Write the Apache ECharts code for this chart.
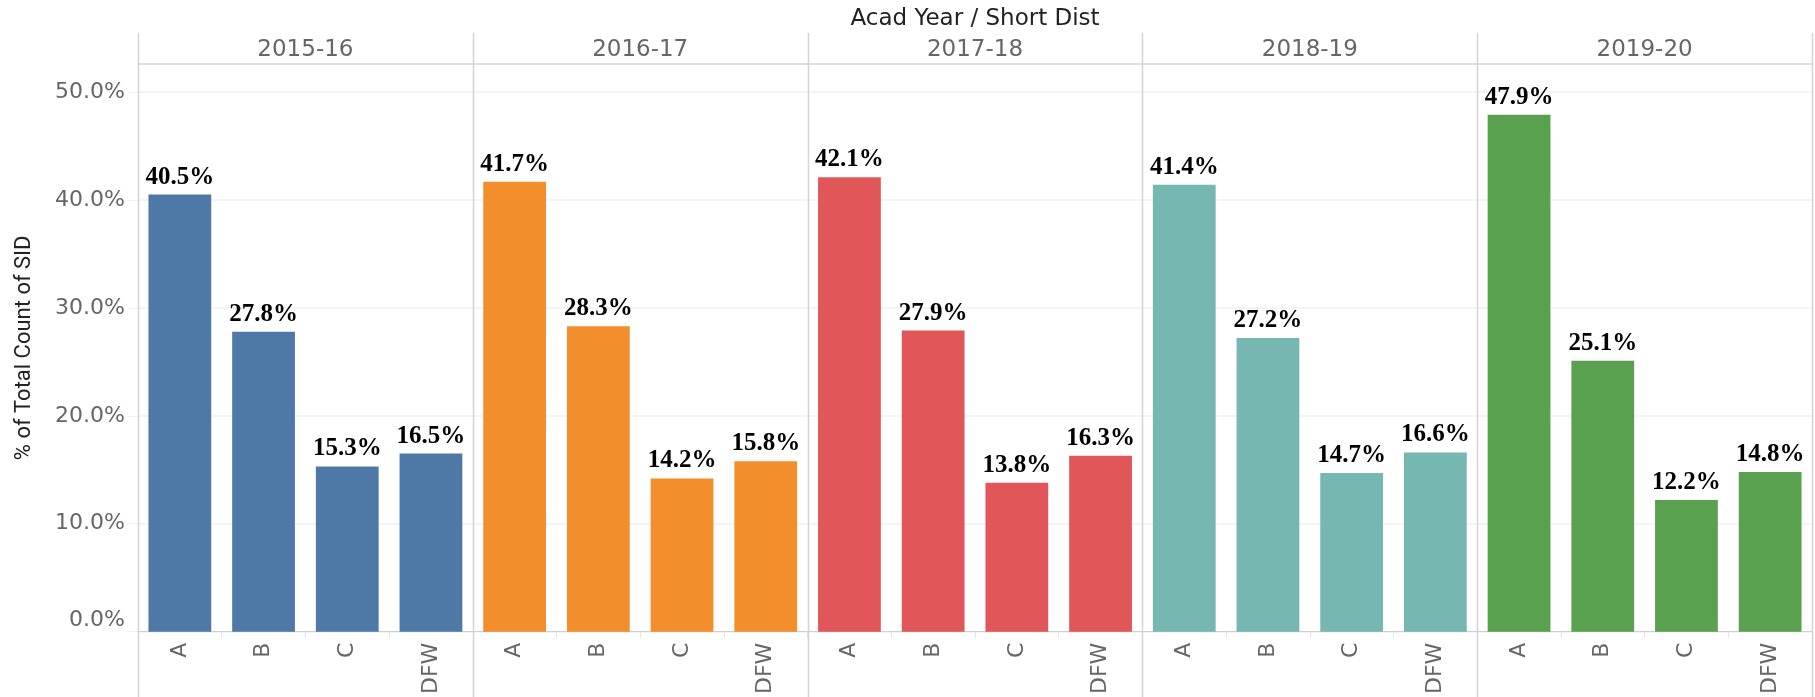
<!DOCTYPE html>
<html>
<head>
<meta charset="utf-8">
<script src="https://cdn.jsdelivr.net/npm/echarts@6/dist/echarts.min.js"></script>
<style>
  html, body { margin: 0; padding: 0; background: #fff; }
  #chart { width: 1815px; height: 697px; }
</style>
</head>
<body>
<div id="chart"></div>
<script>
const years = ["2015-16", "2016-17", "2017-18", "2018-19", "2019-20"];
const categories = ["A", "B", "C", "DFW"];
const share1516 = [40.5, 27.8, 15.3, 16.5];
const share1617 = [41.7, 28.3, 14.2, 15.8];
const share1718 = [42.1, 27.9, 13.8, 16.3];
const share1819 = [41.4, 27.2, 14.7, 16.6];
const share1920 = [47.9, 25.1, 12.2, 14.8];
const yTicks = [0, 10, 20, 30, 40, 50];

const shares = [share1516, share1617, share1718, share1819, share1920];
const colors = ["#4e79a7", "#f28e2b", "#e15759", "#76b7b2", "#59a14f"];

// pane layout
const paneLeft = 138;
const paneRight = 1812;
const paneTop = 64;
const paneBottom = 636.5;
const paneW = (paneRight - paneLeft) / years.length;
const lineColor = "#d4d4d4";
const grayText = "#666";
const headerFont = "DejaVu Sans";

const chart = echarts.init(document.getElementById("chart"));

const grids = [];
const xAxes = [];
const yAxes = [];
const series = [];

years.forEach((yr, i) => {
    grids.push({
        left: paneLeft + i * paneW,
        width: paneW,
        top: paneTop,
        bottom: 697 - paneBottom,
    });

    // bottom category axis
    xAxes.push({
        type: "category",
        gridIndex: i,
        data: categories,
        axisLine: { lineStyle: { color: "#cfcfcf", width: 1 } },
        axisTick: { show: true, length: 6, lineStyle: { color: "#e4e4e4" } },
        axisLabel: {
            rotate: 90,
            margin: 11,
            color: grayText,
            fontFamily: headerFont,
            fontSize: 22,
        },
    });
    // header axis with year label
    xAxes.push({
        type: "category",
        gridIndex: i,
        position: "top",
        data: [yr],
        axisLine: { show: true, lineStyle: { color: lineColor, width: 1.5 } },
        axisTick: { show: false },
        axisLabel: {
            margin: 2,
            color: grayText,
            fontFamily: headerFont,
            fontSize: 23,
        },
    });

    yAxes.push({
        type: "value",
        gridIndex: i,
        min: 0,
        max: 52.6,
        interval: 10,
        name: i === 0 ? "% of Total Count of SID" : "",
        nameLocation: "middle",
        nameGap: 103,
        nameTextStyle: { color: "#222", fontFamily: "Roboto", fontSize: 22 },
        axisLine: { show: false },
        axisTick: { show: i === 0, length: 9, lineStyle: { color: "#ececec" } },
        axisLabel: {
            show: i === 0,
            margin: 13,
            color: grayText,
            fontFamily: headerFont,
            fontSize: 22,
            showMaxLabel: false,
            formatter: (v) => (yTicks.includes(v) ? (v === 0 ? "{z|0.0%}" : v.toFixed(1) + "%") : ""),
            rich: {
                z: { color: grayText, fontFamily: headerFont, fontSize: 22, padding: [0, 0, 22, 0] },
            },
        },
        splitLine: { show: true, showMaxLine: false, lineStyle: { color: "#f0f0f0", width: 1.5 } },
    });

    series.push({
        type: "bar",
        xAxisIndex: i * 2,
        yAxisIndex: i,
        data: shares[i],
        barWidth: "75%",
        itemStyle: { color: colors[i] },
        label: {
            show: true,
            position: "top",
            distance: 5,
            color: "#000",
            fontFamily: "Liberation Serif",
            fontWeight: "bold",
            fontSize: 25,
            formatter: (p) => p.value.toFixed(1) + "%",
        },
    });
});

// pane dividers, running through header and label area
const graphics = [];
for (let i = 0; i <= years.length; i++) {
    const x = Math.round(paneLeft + i * paneW) + 0.5;
    graphics.push({
        type: "line",
        shape: { x1: x, y1: 33, x2: x, y2: 697 },
        style: { stroke: lineColor, lineWidth: 1.5 },
        z: 10,
    });
}
graphics.push({
    type: "text",
    x: (paneLeft + paneRight) / 2,
    y: 19,
    style: {
        text: "Acad Year / Short Dist",
        fill: "#222",
        font: "23px 'DejaVu Sans'",
        textAlign: "center",
        textVerticalAlign: "middle",
    },
});

chart.setOption({
    backgroundColor: "#fff",
    animation: false,
    grid: grids,
    xAxis: xAxes,
    yAxis: yAxes,
    series: series,
    graphic: graphics,
});
</script>
</body>
</html>
